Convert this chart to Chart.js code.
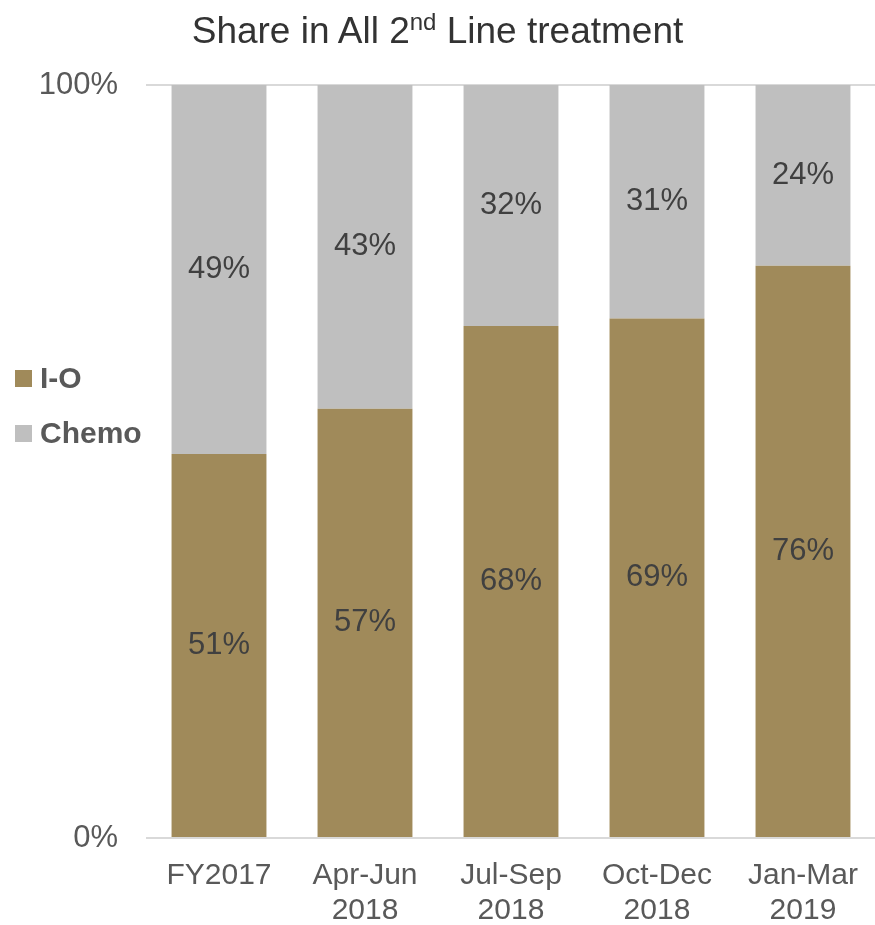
<!DOCTYPE html>
<html>
<head>
<meta charset="utf-8">
<script src="https://cdn.jsdelivr.net/npm/chart.js@4.4.1/dist/chart.umd.min.js"></script>
<style>
  body { margin: 0; background: #fff; overflow: hidden; }
  #wrap { position: relative; width: 875px; height: 925px; overflow: hidden; }
  #grafico { position: absolute; left: 0; top: 0; }
  #titulo {
    position: absolute; left: 0; top: 12px; width: 875px; text-align: center;
    font: 37px/37px "Liberation Sans", Arial, sans-serif; color: #333;
  }
  #titulo sup { font-size: 24px; line-height: 0; vertical-align: 13px; }
</style>
</head>
<body>
<div id="wrap">
  <canvas id="grafico" width="878" height="925"></canvas>
  <div id="titulo">Share in All 2<sup>nd</sup> Line treatment</div>
</div>
<script>
const categorias = ['FY2017', ['Apr-Jun', '2018'], ['Jul-Sep', '2018'], ['Oct-Dec', '2018'], ['Jan-Mar', '2019']];
const io = [51, 57, 68, 69, 76];
const chemo = [49, 43, 32, 31, 24];
const ticksY = [0, 100];

const FUENTE = '"Liberation Sans", Arial, sans-serif';
const ctx = document.getElementById('grafico').getContext('2d');

// etiquetas dentro de cada segmento
const etiquetas = {
  id: 'etiquetas',
  afterDatasetsDraw(chart) {
    const c = chart.ctx;
    c.save();
    c.font = '31px ' + FUENTE;
    c.fillStyle = '#404040';
    c.textAlign = 'center';
    c.textBaseline = 'middle';
    chart.data.datasets.forEach((ds, i) => {
      chart.getDatasetMeta(i).data.forEach((bar, j) => {
        c.fillText(ds.data[j] + '%', bar.x, (bar.y + bar.base) / 2);
      });
    });
    c.restore();
  }
};

// leyenda a la izquierda
const leyenda = {
  id: 'leyenda',
  afterDraw(chart) {
    const c = chart.ctx;
    c.save();
    c.font = 'bold 30px ' + FUENTE;
    c.textBaseline = 'middle';
    chart.data.datasets.forEach((ds, i) => {
      const y = 379 + i * 55;
      c.fillStyle = ds.backgroundColor;
      c.fillRect(15, y - 9, 17, 17);
      c.fillStyle = '#595959';
      c.fillText(ds.label, 40, y + 1);
    });
    c.restore();
  }
};

new Chart(ctx, {
  type: 'bar',
  data: {
    labels: categorias,
    datasets: [
      { label: 'I-O', data: io, backgroundColor: '#A08A5A' },
      { label: 'Chemo', data: chemo, backgroundColor: '#BFBFBF' }
    ]
  },
  options: {
    responsive: false,
    animation: false,
    layout: { padding: { top: 85, right: 0, bottom: 0, left: 0 } },
    datasets: { bar: { barPercentage: 0.65, categoryPercentage: 1 } },
    plugins: {
      legend: { display: false },
      title: { display: false },
      tooltip: { enabled: false }
    },
    scales: {
      x: {
        stacked: true,
        grid: { display: false, drawTicks: false },
        border: { display: false },
        ticks: { color: '#595959', font: { family: FUENTE, size: 30, lineHeight: 1.167 }, padding: 20, maxRotation: 0 },
        afterFit: s => { s.height = 87; }
      },
      y: {
        stacked: true,
        min: 0,
        max: 100,
        afterBuildTicks: s => { s.ticks = ticksY.map(v => ({ value: v })); },
        grid: { color: '#D9D9D9', lineWidth: 2, drawTicks: false },
        border: { display: false },
        ticks: { color: '#595959', font: { family: FUENTE, size: 31 }, padding: 28, callback: v => v + '%' },
        afterFit: s => { s.width = 146; }
      }
    }
  },
  plugins: [etiquetas, leyenda]
});
</script>
</body>
</html>
